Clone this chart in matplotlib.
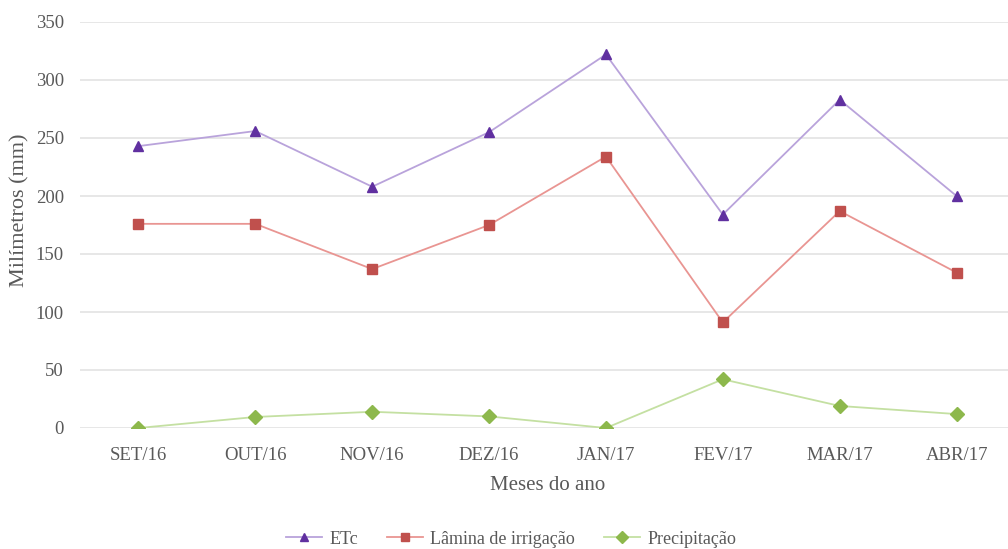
import matplotlib
matplotlib.use("Agg")
import matplotlib.pyplot as plt

months = ["SET/16", "OUT/16", "NOV/16", "DEZ/16", "JAN/17", "FEV/17", "MAR/17", "ABR/17"]
etc = [243, 256, 208, 255, 322, 184, 283, 200]
lamina = [176, 176, 137, 175, 234, 91, 187, 134]
precip = [0, 9.5, 14, 10, 0, 42, 19, 12]
yticks = [0, 50, 100, 150, 200, 250, 300, 350]

plt.rcParams['font.family'] = ['Liberation Serif', 'DejaVu Serif']

fig = plt.figure(figsize=(10.08, 5.49), dpi=100)
ax = fig.add_axes([80/1008, 1-428/549, (1015-80)/1008, (428-22)/549])

x = list(range(len(months)))
ax.plot(x, etc, color="#B9A3DB", lw=1.3, marker="^", ms=7, mfc="#6030A0", mec="#6030A0", label="ETc")
ax.plot(x, lamina, color="#E99592", lw=1.3, marker="s", ms=7, mfc="#C0504D", mec="#C0504D", label="Lâmina de irrigação")
ax.plot(x, precip, color="#C4E0A2", lw=1.3, marker="D", ms=7, mfc="#8DB84C", mec="#8DB84C", label="Precipitação")

ax.set_xlim(-0.5, 7.5)
ax.set_ylim(0, 350)
ax.set_yticks(yticks)
ax.set_xticks(x)
ax.set_xticklabels(months)
ax.grid(axis="y", color="#E3E3E3", lw=1.2)
ax.set_axisbelow(True)
for s in ax.spines.values():
    s.set_visible(False)
ax.tick_params(length=0, labelsize=13.5, labelcolor="#595959")
ax.tick_params(axis="x", pad=14)
ax.tick_params(axis="y", pad=11.5)
ax.set_ylabel("Milímetros (mm)", fontsize=16, color="#595959")
ax.yaxis.set_label_coords(-0.054, 0.537)
ax.set_xlabel("Meses do ano", fontsize=15, color="#595959", labelpad=8)

leg = fig.legend(loc="center", bbox_to_anchor=(511/1008, 1-539/549), ncol=3, frameon=False,
                 fontsize=13, labelcolor="#595959", handlelength=2, handletextpad=0.4,
                 columnspacing=1.6, markerscale=0.9)

fig.savefig("out.png", dpi=100)
